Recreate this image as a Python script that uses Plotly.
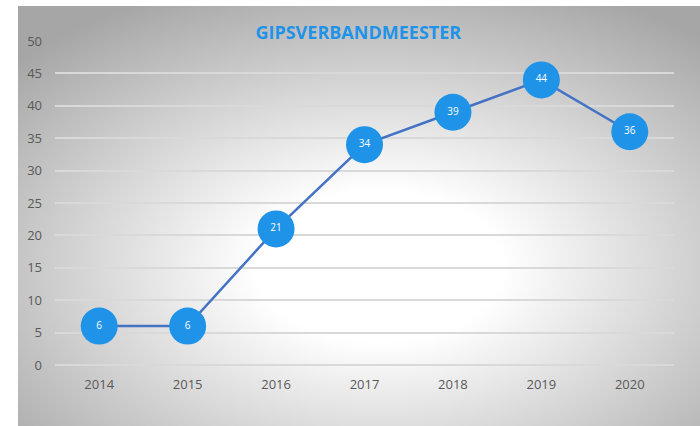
import base64
import plotly.graph_objects as go

years = ["2014", "2015", "2016", "2017", "2018", "2019", "2020"]
values = [6, 6, 21, 34, 39, 44, 36]
y_ticks = [0, 5, 10, 15, 20, 25, 30, 35, 40, 45, 50]
title_text = "GIPSVERBANDMEESTER"

W, H = 700, 426
ml, mr, mt, mb = 55, 26, 41, 61
pw, ph = W - ml - mr, H - mt - mb

svg = (
    '<svg xmlns="http://www.w3.org/2000/svg" width="682" height="420" viewBox="0 0 682 420" preserveAspectRatio="none">'
    '<defs><radialGradient id="g" cx="0.53" cy="0.62" r="0.72" gradientUnits="objectBoundingBox">'
    '<stop offset="0" stop-color="#ffffff"/>'
    '<stop offset="0.25" stop-color="#ffffff"/>'
    '<stop offset="1" stop-color="#a6a6a6"/>'
    '</radialGradient></defs>'
    '<rect x="0" y="0" width="682" height="420" fill="url(#g)"/></svg>'
)
src = "data:image/svg+xml;base64," + base64.b64encode(svg.encode()).decode()

px0, py0, px1, py1 = 18, 6, 700, 426
img_x = (px0 - ml) / pw
img_y = (H - mb - py0) / ph
img_w = (px1 - px0) / pw
img_h = (py1 - py0) / ph

fig = go.Figure()
fig.add_trace(go.Scatter(
    x=years, y=values, mode="lines+markers+text",
    line=dict(color="#4472C4", width=2.5),
    marker=dict(size=37, color="#1F93E8", line=dict(width=0)),
    text=[str(v) for v in values], textposition="middle center",
    textfont=dict(color="#ffffff", size=10, family="Open Sans"),
    hoverinfo="skip", cliponaxis=False,
))

fig.update_layout(
    width=W, height=H,
    margin=dict(l=ml, r=mr, t=mt, b=mb),
    paper_bgcolor="#ffffff", plot_bgcolor="rgba(0,0,0,0)",
    showlegend=False,
    images=[dict(source=src, xref="paper", yref="paper", x=img_x, y=img_y,
                 sizex=img_w, sizey=img_h, xanchor="left", yanchor="top",
                 sizing="stretch", layer="below")],
    title=dict(text="<b>" + title_text + "</b>", x=0.49, xref="paper", xanchor="center",
               y=1 - 33 / H, yref="container", yanchor="middle",
               font=dict(family="Open Sans", size=18, color="#1F93E8")),
    xaxis=dict(type="category", range=[-0.5, len(years) - 0.5], showgrid=False,
               showline=False, zeroline=False,
               tickfont=dict(family="Open Sans", size=13, color="#595959"),
               ticks="", ticklabelstandoff=10),
    yaxis=dict(range=[0, 50], tickvals=y_ticks, showgrid=True, gridcolor="#d9d9d9",
               gridwidth=1.5, zeroline=True, zerolinecolor="#d9d9d9", zerolinewidth=1.5,
               showline=False, ticks="", ticklabelstandoff=12,
               tickfont=dict(family="Open Sans", size=13, color="#595959")),
)

fig.write_html("out.html", config={"displayModeBar": False},
               post_script="document.body.style.margin='0';document.body.style.overflow='hidden';")
